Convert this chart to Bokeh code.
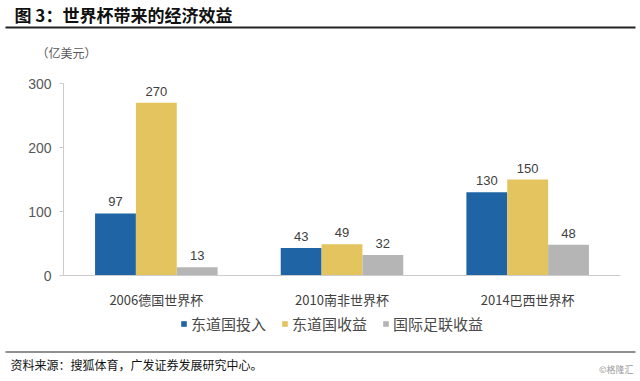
from bokeh.plotting import figure
from bokeh.models import (ColumnDataSource, Range1d, Label, LabelSet, LinearAxis,
                          FixedTicker, Legend, LegendItem, BoxAnnotation)
from bokeh.transform import dodge
from bokeh.embed import file_html
from bokeh.resources import INLINE
from bokeh.core.properties import value

categories = ["2006德国世界杯", "2010南非世界杯", "2014巴西世界杯"]
host_input = [97, 43, 130]
host_income = [270, 49, 150]
fifa_income = [13, 32, 48]
series_names = ["东道国投入", "东道国收益", "国际足联收益"]
y_ticks = [0, 100, 200, 300]
title_text = "图 3：世界杯带来的经济效益"
unit_text = "（亿美元）"
source_text = "资料来源：搜狐体育，广发证券发展研究中心。"
mark_text = "©格隆汇"

colors = ["#1f65a5", "#e3c45e", "#b5b5b5"]
FONT = "Noto Sans CJK SC"
NUMFONT = "Liberation Sans"

W, H = 640, 381
# plot area (pixels) of the reference
AX_L, AX_R, AX_T, AX_B = 63, 620, 83, 275
Y_MAX = y_ticks[-1]
n = len(categories)
ppu_x = (AX_R - AX_L) / n
ppu_y = (AX_B - AX_T) / Y_MAX
x_range = Range1d(-AX_L / ppu_x, n + (W - AX_R) / ppu_x)
y_range = Range1d(-(H - AX_B) / ppu_y, AX_B / ppu_y)

xpos = [i + 0.5 for i in range(n)]
src = ColumnDataSource(dict(x=xpos, a=host_input, b=host_income, c=fifa_income))

p = figure(width=W, height=H, x_range=x_range, y_range=y_range,
           output_backend="svg", toolbar_location=None,
           x_axis_location=None, y_axis_location=None,
           min_border=0, min_border_left=0, min_border_right=0,
           min_border_top=0, min_border_bottom=0)
p.outline_line_color = None
p.xgrid.grid_line_color = None
p.ygrid.grid_line_color = None
p.background_fill_color = "white"
p.border_fill_color = "white"

bw = 0.22
renderers = []
for col, off, c in zip(["a", "b", "c"], [-bw, 0, bw], colors):
    r = p.vbar(x=dodge("x", off), top=col, width=bw, source=src,
               fill_color=c, line_color=None)
    renderers.append(r)
    ls = LabelSet(x=dodge("x", off), y=col, text=col, source=src,
                  text_align="center", text_baseline="bottom", y_offset=7,
                  text_font=value(NUMFONT), text_font_size="13px", text_color="#404040")
    p.add_layout(ls)

yaxis = LinearAxis(fixed_location=0, bounds=(0, Y_MAX), ticker=FixedTicker(ticks=y_ticks),
                   axis_line_color="#cccccc", major_tick_line_color="#cccccc",
                   major_tick_out=4, major_tick_in=0, minor_tick_line_color=None,
                   major_label_text_font=NUMFONT, major_label_text_font_size="14px",
                   major_label_text_color="#595959", major_label_standoff=8)
p.add_layout(yaxis, "left")

xaxis = LinearAxis(fixed_location=0, bounds=(0, n), ticker=FixedTicker(ticks=xpos),
                   major_label_overrides={xv: c for xv, c in zip(xpos, categories)},
                   axis_line_color="#cccccc", major_tick_line_color=None,
                   minor_tick_line_color=None,
                   major_label_text_font=FONT, major_label_text_font_size="13px",
                   major_label_text_color="#404040", major_label_standoff=8)
p.add_layout(xaxis, "below")


def lab(text, px, py, size, color="#000000", font=FONT, style="normal", align="left"):
    p.add_layout(Label(x=px, y=H - py, x_units="screen", y_units="screen", text=text,
                       text_font=font, text_font_size=size, text_color=color,
                       text_font_style=style, text_baseline="middle", text_align=align))


lab(title_text, 14, 14, "17px", color="#111111", style="bold")
lab(unit_text, 36, 52, "12px", color="#595959")
lab(source_text, 10, 364, "12px", color="#111111")
lab(mark_text, 633, 369, "9px", color="#999999", align="right")

for ytop, thick in [(26, 2), (351, 1)]:
    p.add_layout(BoxAnnotation(left=5, right=635, top=H - ytop, bottom=H - ytop - thick,
                               left_units="screen", right_units="screen",
                               top_units="screen", bottom_units="screen",
                               fill_color="#222222", fill_alpha=1.0, line_color=None))

legend = Legend(items=[LegendItem(label=s, renderers=[r]) for s, r in zip(series_names, renderers)],
                orientation="horizontal", location=(180, H - 334),
                glyph_width=7, glyph_height=7, label_standoff=4, spacing=15,
                padding=0, margin=0, border_line_color=None, background_fill_alpha=0,
                label_text_font=FONT, label_text_font_size="15px", label_text_color="#4a4a4a")
p.add_layout(legend, "center")

open("out.html", "w").write(file_html(p, INLINE))
